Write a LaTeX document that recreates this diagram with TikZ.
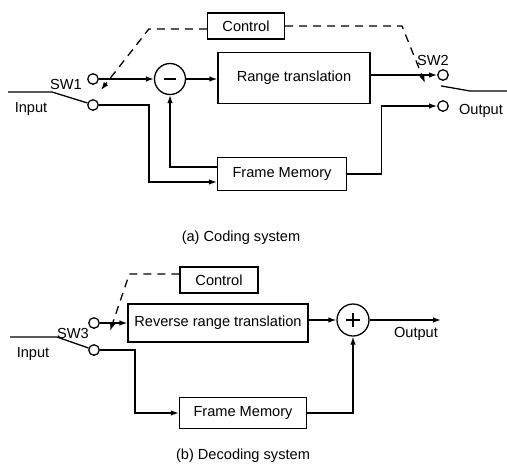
\documentclass[tikz,border=0pt]{standalone}
\usepackage{fontspec}
\setmainfont{Liberation Sans}
\usetikzlibrary{arrows.meta}

\begin{document}
\begin{tikzpicture}[x=1pt, y=-1pt, line width=1.3pt,
  every node/.style={font=\fontsize{14.6}{17}\selectfont},
  blk/.style={draw, rectangle, inner sep=0pt},
  term/.style={draw, circle, minimum size=10.5pt, inner sep=0pt},
  sum/.style={draw, circle, minimum size=31pt, inner sep=0pt},
  ctl/.style={dash pattern=on 8pt off 6pt},
  arr/.style={-{Latex[length=8pt, width=5.5pt]}}]
\useasboundingbox (0, 0) rectangle (507, 467);

% (a) coding system
\node[blk, minimum width=77pt, minimum height=26pt] (ctlA) at (246, 26) {Control};
\node[blk, minimum width=152pt, minimum height=51pt] (range) at (294, 78) {Range translation};
\node[blk, minimum width=129pt, minimum height=33pt] (fmA) at (282, 174) {Frame Memory};
\node[sum] (minus) at (170, 79) {};
\draw[line width=2.6pt] ([xshift=-6pt]minus.center) -- ([xshift=6pt]minus.center);
\node[term] (sw1u) at (93, 79) {};
\node[term] (sw1d) at (93, 105) {};
\node[term] (sw2u) at (443, 75) {};
\node[term] (sw2d) at (443, 106) {};
\coordinate (inA) at (8, 92);
\coordinate (pivA) at (52, 92);
\coordinate (pivA2) at (470, 91);
\coordinate (outA) at (507, 91);
\coordinate (tipA1) at (101, 90);
\coordinate (tipA2) at (425, 83);
\node (sw1) at (66, 84) {SW1};
\node (inputA) at (31, 109) {Input};
\node (sw2) at (433, 60) {SW2};
\node (outputA) at (481, 111) {Output};

\draw (inA) -- (pivA) -- (sw1d.160);
\draw ([shift={(-2pt, -5pt)}]sw2u.south) -- (pivA2) -- (outA);
\draw[arr] (sw1u.east) -- (minus.west);
\draw[arr] (minus.east) -- (range.west |- minus);
\draw[arr] (range.east |- sw2u) -- (sw2u.west);
\draw[arr] ([yshift=7pt]fmA.west) -| (minus.south);
\draw[arr] (sw1d.east) -- ++(50, 0) |- ([yshift=-8pt]fmA.west);
\draw[arr] (fmA.east) -- ++(34, 0) |- (sw2d.west);
\draw[ctl, arr] ([yshift=-3pt]ctlA.west) -- ++(-58, 0) -- (tipA1);
\draw[ctl, arr] (ctlA.east) -- (402, 26) -- (tipA2);
\node (capA) at (241, 238) {(a) Coding system};

% (b) decoding system
\node[blk, minimum width=78pt, minimum height=26pt] (ctlB) at (219, 280) {Control};
\node[blk, minimum width=180pt, minimum height=38pt] (rev) at (218, 323) {Reverse range translation};
\node[blk, minimum width=127pt, minimum height=31pt] (fmB) at (243, 413) {Frame Memory};
\node[sum, minimum size=32pt] (plus) at (353, 320) {};
\draw[line width=2.6pt] ([xshift=-7pt]plus.center) -- ([xshift=7pt]plus.center);
\draw[line width=2.6pt] ([yshift=-7pt]plus.center) -- ([yshift=7pt]plus.center);
\node[term] (sw3u) at (94, 323) {};
\node[term] (sw3d) at (94, 350) {};
\coordinate (inB) at (10, 337);
\coordinate (pivB) at (57, 337);
\coordinate (outB) at (441, 320);
\coordinate (tipB) at (110, 331);
\node (sw3) at (73, 333) {SW3};
\node (inputB) at (33, 354) {Input};
\node (outputB) at (416, 334) {Output};

\draw (inB) -- (pivB) -- (sw3d.160);
\draw[arr] (sw3u.east) -- (sw3u.east -| rev.west);
\draw[arr] (rev.east |- plus) -- (plus.west);
\draw[arr] (plus.east) -- (outB);
\draw[arr] (fmB.east) -| (plus.south);
\draw[arr] (sw3d.east) -- ++(35, 0) |- (fmB.west);
\draw[ctl, arr] ([yshift=6pt]ctlB.west) -- ++(-50, 0) -- (tipB);
\node (capB) at (243, 456) {(b) Decoding system};
\end{tikzpicture}
\end{document}
